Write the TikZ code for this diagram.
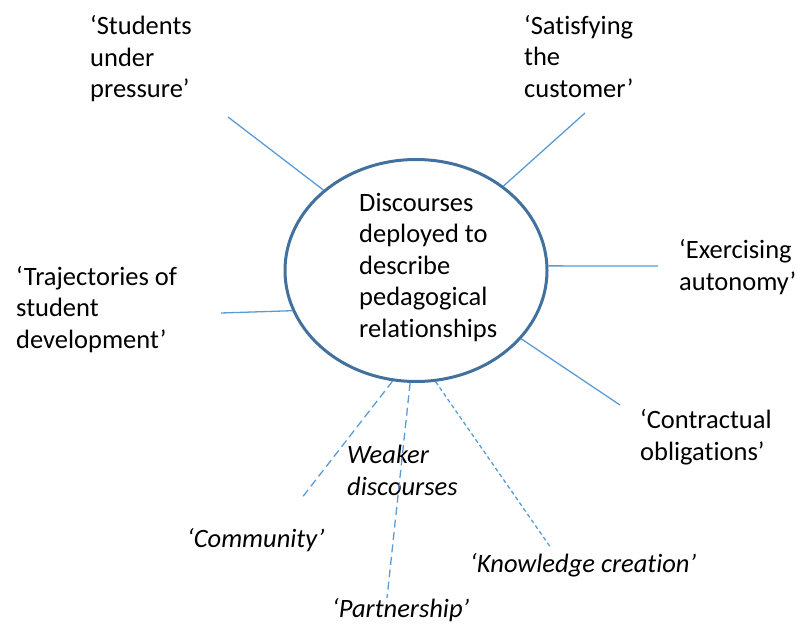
\documentclass[tikz,border=0pt]{standalone}
\usepackage{fontspec}
\setmainfont{Carlito}[Ligatures=NoCommon]
\usetikzlibrary{shapes.geometric}
\definecolor{spoke}{HTML}{5B9BD5}
\definecolor{rim}{HTML}{41719C}
\begin{document}
\begin{tikzpicture}[x=1pt,y=-1pt,
  lbl/.style={anchor=base west,inner sep=0pt,align=left,
    font=\fontsize{26.5}{31.5}\selectfont},
  ilbl/.style={lbl,font=\fontsize{26.5}{31.5}\selectfont\itshape},
  spokeline/.style={draw=spoke,line width=1.3pt},
  longdash/.style={spokeline,dash pattern=on 8pt off 4.5pt},
  shortdash/.style={spokeline,dash pattern=on 4pt off 3pt}]
\useasboundingbox (0,0) rectangle (797,626);
\node[ellipse,draw=rim,line width=3pt,minimum width=262pt,minimum height=222pt,inner sep=0pt] (c) at (416,270.5) {};
\node[lbl] (ct) at (359,337) {Discourses\\deployed to\\describe\\pedagogical\\relationships};
\node[lbl] (sup) at (90,97.5) {‘Students\\under\\pressure’};
\node[lbl] (sat) at (524,97) {‘Satisfying\\the\\customer’};
\node[lbl] (exa) at (679,290) {‘Exercising\\autonomy’};
\node[lbl] (tra) at (16,348) {‘Trajectories of\\student\\development’};
\node[lbl] (con) at (640,460) {‘Contractual\\obligations’};
\node[ilbl] (wk) at (347,495) {Weaker\\discourses};
\node[ilbl] (com) at (187,547) {‘Community’};
\node[ilbl] (par) at (332,617) {‘Partnership’};
\node[ilbl] (kno) at (470,572) {‘Knowledge creation’};
\coordinate (e1) at (228,117);
\coordinate (e2) at (585,113);
\coordinate (e3) at (658,266);
\coordinate (e4) at (620,405);
\coordinate (e5) at (221,313);
\coordinate (e6) at (301,499);
\coordinate (e7) at (387,598);
\coordinate (e8) at (551,548);
\draw[spokeline] (c.139) -- (e1);
\draw[spokeline] (c.44) -- (e2);
\draw[spokeline] (c.2) -- (e3);
\draw[spokeline] (c.-33) -- (e4);
\draw[spokeline] (c.198) -- (e5);
\draw[longdash] (c.258) -- (e6);
\draw[longdash] (c.267.5) -- (e7);
\draw[shortdash] (c.280) -- (e8);
\end{tikzpicture}
\end{document}
